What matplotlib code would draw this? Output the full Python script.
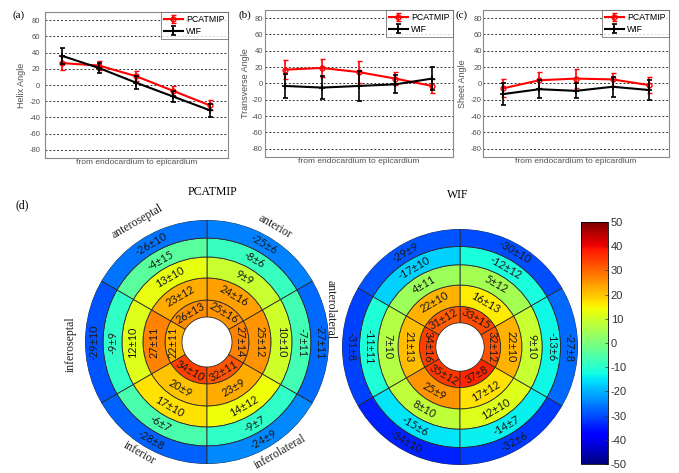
import numpy as np
import matplotlib
matplotlib.use('Agg')
import matplotlib.pyplot as plt
from matplotlib import cm, colors

# ---------------- data ----------------
x_pos = [1, 2, 3, 4, 5]

helix_pcat = [27, 24, 11, -7, -25]
helix_pcat_err = [9, 5, 6, 6, 6]
helix_wif = [36, 21, 3, -14, -31]
helix_wif_err = [10, 6, 8, 7, 8]

trans_pcat = [17, 19, 14, 6, -3]
trans_pcat_err = [12, 11, 13, 8, 9]
trans_wif = [-3, -5, -3, -1, 6]
trans_wif_err = [15, 14, 18, 11, 14]

sheet_pcat = [-6, 4, 6, 5, -2]
sheet_pcat_err = [11, 10, 12, 8, 10]
sheet_wif = [-13, -7, -9, -4, -8]
sheet_wif_err = [13, 11, 9, 12, 12]

# segments: anterior, anteroseptal, inferoseptal, inferior, inferolateral, anterolateral
sector_names = ['anterior', 'anteroseptal', 'inferoseptal', 'inferior', 'inferolateral', 'anterolateral']
seg_angles = [60, 120, 180, 240, 300, 0]

# rings from endocardium (inner) to epicardium (outer)
pcat_mean = [[25, 26, 22, 34, 32, 27],
             [24, 23, 27, 20, 23, 25],
             [9, 13, 12, 17, 14, 10],
             [-8, -4, -9, -6, -9, -7],
             [-25, -26, -29, -28, -24, -27]]
pcat_sd = [[16, 13, 11, 10, 11, 14],
           [16, 12, 11, 9, 9, 12],
           [9, 10, 10, 10, 12, 10],
           [6, 15, 9, 7, 7, 11],
           [6, 10, 10, 8, 9, 11]]
wif_mean = [[33, 31, 34, 35, 37, 32],
            [16, 22, 21, 25, 17, 22],
            [5, 4, 7, 8, 12, 9],
            [-12, -17, -11, -15, -14, -13],
            [-30, -29, -31, -34, -32, -27]]
wif_sd = [[15, 12, 16, 12, 8, 12],
          [13, 10, 13, 9, 12, 10],
          [12, 11, 10, 10, 10, 10],
          [12, 10, 11, 6, 7, 6],
          [10, 9, 8, 10, 6, 8]]

cbar_ticks = list(range(-50, 51, 10))

# ---------------- layout ----------------
W, H = 679, 473
plt.rcParams['axes.unicode_minus'] = False
fig = plt.figure(figsize=(W / 100, H / 100), dpi=100)

def px_rect(l, t, r, b):
    return [l / W, 1 - b / H, (r - l) / W, (b - t) / H]

SANS = 'Liberation Sans'
SERIF = 'Liberation Serif'
GRAY = '#505050'

def line_panel(rect, xlim, ylab, pc, pce, wf, wfe, lab, labxy, ylab_x, tpad):
    ax = fig.add_axes(rect)
    ax.errorbar(x_pos, pc, yerr=pce, color='red', marker='o', ms=3.5, mfc='none',
                mec='red', mew=1.0, lw=1.5, elinewidth=1.2, capsize=1.8,
                label='PCATMIP', zorder=3)
    ax.errorbar(x_pos, wf, yerr=wfe, color='black', marker='+', ms=5, mew=1.2,
                lw=1.5, elinewidth=1.2, capsize=1.8, label='WIF', zorder=4)
    ax.set_xlim(*xlim)
    ax.set_ylim(-90, 90)
    ax.set_yticks(range(-80, 81, 20))
    ax.set_xticks([])
    ax.yaxis.grid(True, linestyle=(0, (2, 2)), color='#333333', lw=0.7)
    ax.tick_params(axis='y', length=0, labelsize=5.5, labelcolor=GRAY, pad=tpad)
    for t in ax.get_yticklabels():
        t.set_family(SANS)
    for s in ax.spines.values():
        s.set_color('#888888')
        s.set_linewidth(0.8)
    ax.set_ylabel(ylab, fontsize=6.5, color=GRAY, family=SANS, va='center')
    ax.yaxis.set_label_coords(ylab_x, 0.5)
    ax.set_xlabel('from endocardium to epicardium', fontsize=6, color=GRAY, family=SANS)
    ax.xaxis.set_label_coords(0.5, -0.01)
    leg = ax.legend(loc='upper right', prop={'family': SANS, 'size': 6.3}, borderaxespad=0,
                    frameon=True, fancybox=False, handlelength=2.2, labelspacing=0.3,
                    borderpad=0.35, handletextpad=0.4)
    leg.get_frame().set_edgecolor('#555555')
    leg.get_frame().set_linewidth(0.6)
    fig.text(labxy[0] / W, 1 - labxy[1] / H, lab, fontsize=8, family=SERIF,
             ha='center', va='center')
    return ax

line_panel(px_rect(45, 12, 228, 158), (0.54, 5.5), 'Helix Angle',
           helix_pcat, helix_pcat_err, helix_wif, helix_wif_err, '(a)', (19, 15), -0.126, 3.5)
line_panel(px_rect(265, 10, 453, 157), (0.45, 5.57), 'Transverse Angle',
           trans_pcat, trans_pcat_err, trans_wif, trans_wif_err, '(b)', (245, 15), -0.106, 1.5)
line_panel(px_rect(483, 10, 669, 157), (0.46, 5.54), 'Sheet Angle',
           sheet_pcat, sheet_pcat_err, sheet_wif, sheet_wif_err, '(c)', (462, 15), -0.108, 0.8)

# ---------------- bullseyes ----------------
cmap = plt.get_cmap('jet')
norm = colors.Normalize(vmin=-50, vmax=50)
ring_edges = [0.205, 0.344, 0.525, 0.697, 0.852, 1.0]

def text_rot(a, left_rot):
    if a == 0:
        return -90
    if a == 180:
        return left_rot
    if a < 180:
        return a - 90
    return a + 90 - 360

def bullseye(cx, cy, R, means, sds, left_rot):
    ax = fig.add_axes(px_rect(cx - R, cy - R, cx + R, cy + R), projection='polar')
    ax.set_ylim(0, 1)
    for i in range(5):
        r0, r1 = ring_edges[i], ring_edges[i + 1]
        for j in range(6):
            th = np.deg2rad(seg_angles[j])
            ax.bar(th, r1 - r0, width=np.deg2rad(60), bottom=r0,
                   color=cmap(norm(means[i][j])), edgecolor='#2a2a2a', linewidth=0.6)
            ax.text(th, (r0 + r1) / 2, f'{means[i][j]}±{sds[i][j]}',
                    rotation=text_rot(seg_angles[j], left_rot), rotation_mode='anchor',
                    ha='center', va='center', fontsize=7.8, family='Lato', color='#1a1a1a')
    ax.grid(False)
    ax.axis('off')
    return ax

ax_p = bullseye(207, 342, 122, pcat_mean, pcat_sd, 90)
ax_w = bullseye(460, 347, 118, wif_mean, wif_sd, -90)

label_angles = [59.6, 120, 181, 238.7, 303.6, 14.5]
label_radii = [1.10, 1.14, 1.12, 1.07, 1.08, 1.05]
label_rots = [-30, 30, 90, -30, 30, -90]
for name, a, r, rot in zip(sector_names, label_angles, label_radii, label_rots):
    ax_p.text(np.deg2rad(a), r, name, rotation=rot, rotation_mode='anchor',
              ha='center', va='center', fontsize=8.5, family=SERIF, color='#222222')

fig.text(212 / W, 1 - 192 / H, 'PCATMIP', fontsize=8.5, family=SERIF, ha='center', va='center')
fig.text(458 / W, 1 - 195 / H, 'WIF', fontsize=8.5, family=SERIF, ha='center', va='center')
fig.text(22 / W, 1 - 205 / H, '(d)', fontsize=8.5, family=SERIF, ha='center', va='center')

# ---------------- colorbar ----------------
cax = fig.add_axes(px_rect(581, 222, 608, 464))
cb = fig.colorbar(cm.ScalarMappable(norm=norm, cmap=cmap), cax=cax, ticks=cbar_ticks)
cb.ax.tick_params(length=2, width=0.5, direction='in', labelsize=8, pad=2, colors='#333333')
for t in cb.ax.get_yticklabels():
    t.set_family(SANS)
cb.outline.set_linewidth(0.6)

fig.savefig('out.png', dpi=100)
